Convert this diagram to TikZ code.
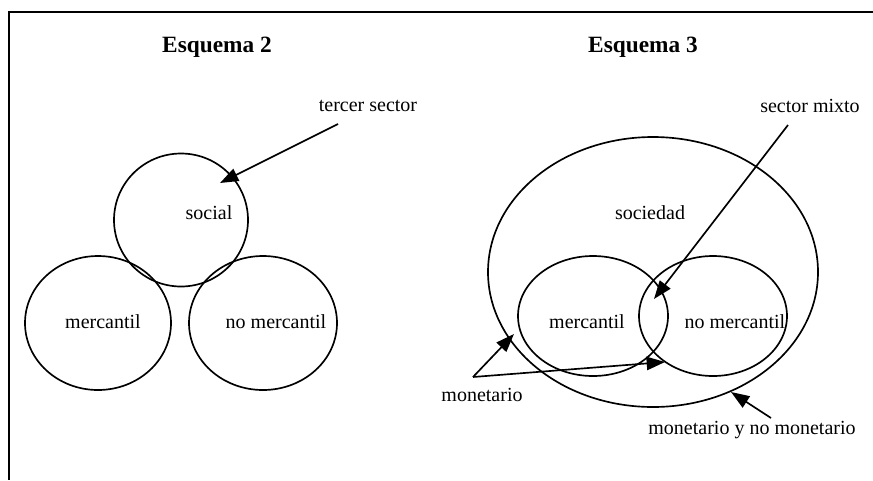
\documentclass[tikz,border=0pt]{standalone}
\usepackage{fontspec}
\setmainfont{Liberation Serif}
\usetikzlibrary{shapes.geometric,arrows.meta}

\begin{document}
\begin{tikzpicture}[x=0.6pt,y=-0.6pt,
    blob/.style={ellipse,draw,line width=1pt,inner sep=0pt},
    pointer/.style={line width=1pt,-{Triangle[length=11pt,width=8pt]}},
    txt/.style={font=\fontsize{12}{14}\selectfont,inner sep=1pt},
    heading/.style={font=\fontsize{14}{16}\selectfont\bfseries,inner sep=1pt}]
  \useasboundingbox (0,0) rectangle (873,480);
  \draw[line width=0.8pt] (873,12) -- (9,12) -- (9,480);

  % Esquema 2
  \node[heading] (titleA) at (217,47) {Esquema 2};
  \node[blob,minimum width=80.4pt,minimum height=79.8pt] (socialA) at (181,220) {};
  \node[blob,minimum width=87.6pt,minimum height=80.4pt] (mercA) at (98,323) {};
  \node[blob,minimum width=88.8pt,minimum height=80.4pt] (nomercA) at (263,323) {};
  \node[txt] (socialtxt) at (209,213) {social};
  \node[txt] (merctxtA) at (103,322) {mercantil};
  \node[txt] (nomerctxtA) at (276,322) {no mercantil};
  \node[txt] (tercer) at (368,106) {tercer sector};
  \coordinate (tercerfrom) at (338,124);
  \coordinate (tercerto) at (220,183);
  \draw[pointer] (tercerfrom) -- (tercerto);

  % Esquema 3
  \node[heading] (titleB) at (643,47) {Esquema 3};
  \node[blob,minimum width=198pt,minimum height=162pt] (sociedad) at (653,272) {};
  \node[blob,minimum width=90pt,minimum height=72pt] (mercB) at (593,316) {};
  \node[blob,minimum width=88.8pt,minimum height=72pt] (nomercB) at (713,316) {};
  \node[txt] (sociedadtxt) at (650,213) {sociedad};
  \node[txt] (merctxtB) at (587,322) {mercantil};
  \node[txt] (nomerctxtB) at (735,322) {no mercantil};
  \node[txt] (mixto) at (810,106) {sector mixto};
  \node[txt] (monet) at (482,395) {monetario};
  \node[txt] (monetno) at (752,430) {monetario y no monetario};
  \coordinate (mixtofrom) at (788,125);
  \coordinate (mixtoto) at (654,299);
  \coordinate (monetfrom) at (473,377);
  \coordinate (monettoA) at (514,334);
  \coordinate (monettoB) at (665,362);
  \coordinate (monetnofrom) at (771,418);
  \coordinate (monetnoto) at (731,392);
  \draw[pointer] (mixtofrom) -- (mixtoto);
  \draw[pointer] (monetfrom) -- (monettoA);
  \draw[pointer] (monetfrom) -- (monettoB);
  \draw[pointer] (monetnofrom) -- (monetnoto);
\end{tikzpicture}
\end{document}
